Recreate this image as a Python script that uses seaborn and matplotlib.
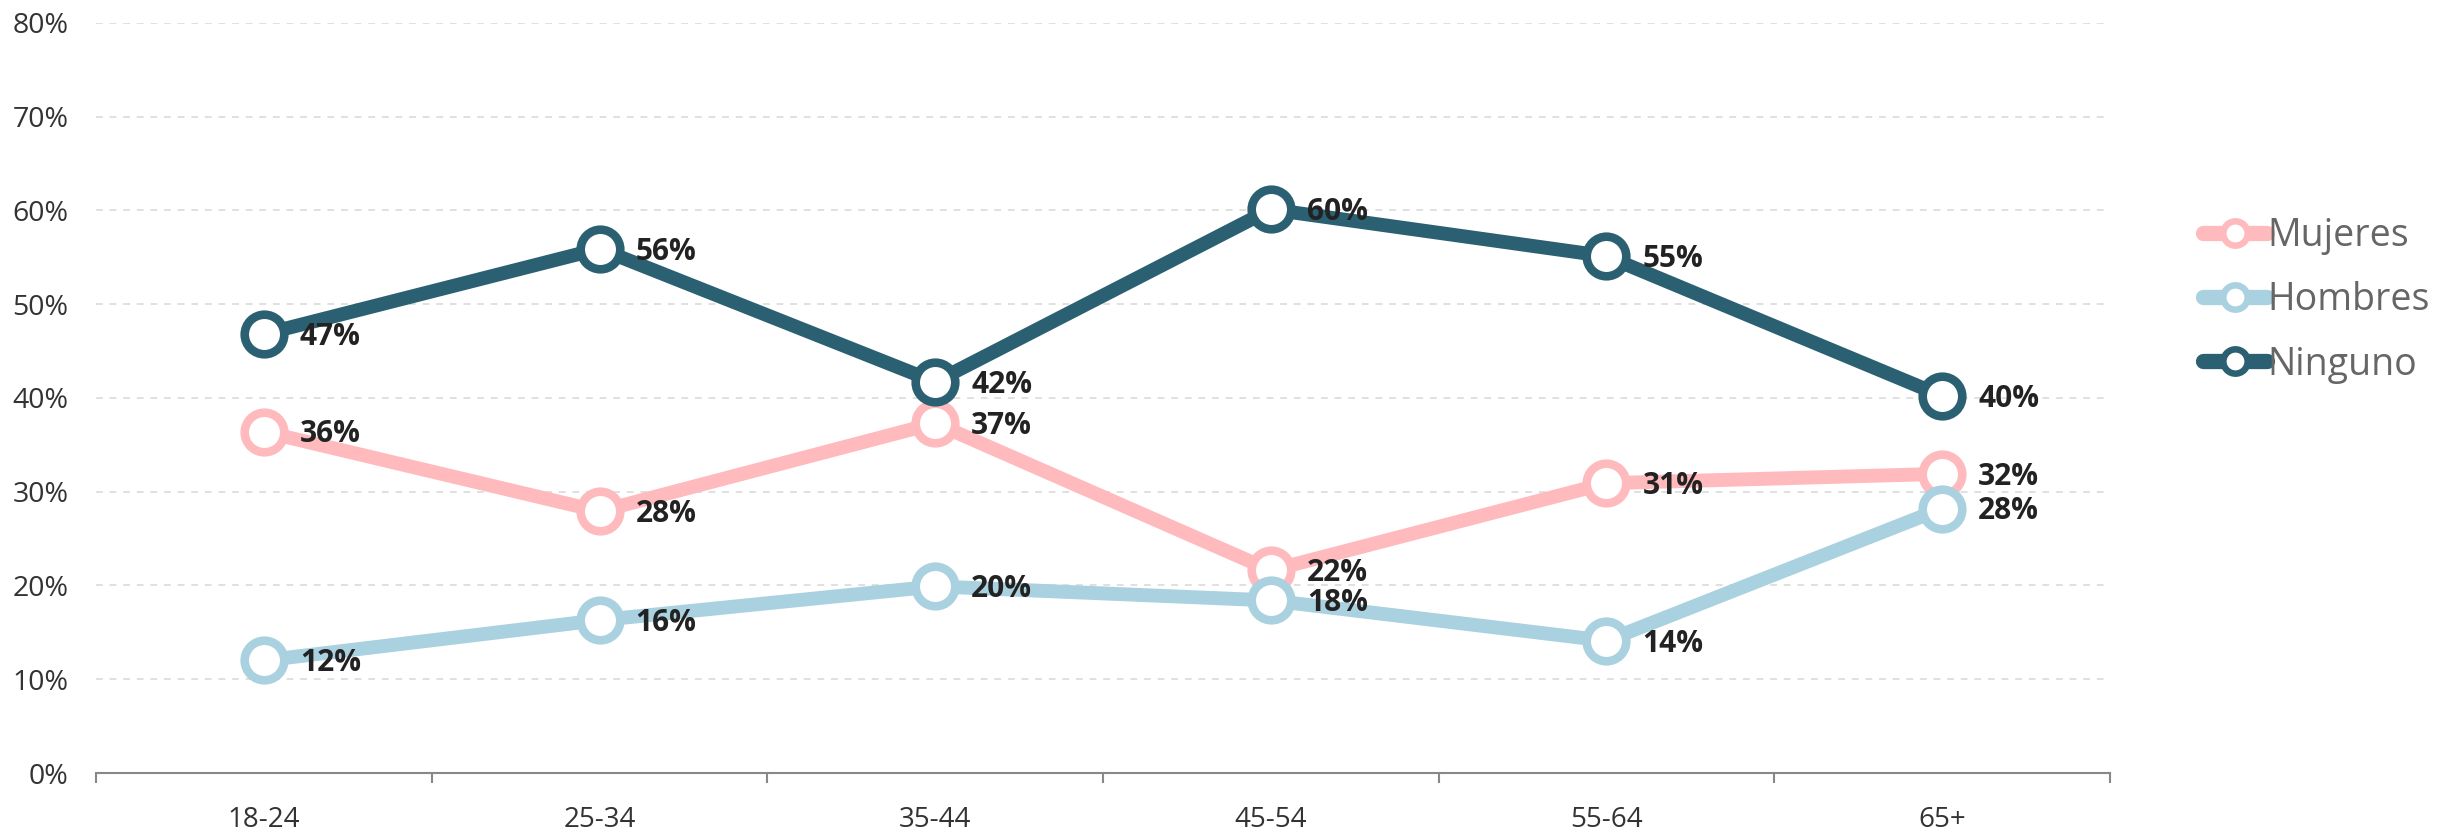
import numpy as np
import pandas as pd
import matplotlib
matplotlib.use("Agg")
import matplotlib.pyplot as plt
from matplotlib.lines import Line2D
from matplotlib.ticker import FixedLocator
import seaborn as sns

# --- data ---
ages = ["18-24", "25-34", "35-44", "45-54", "55-64", "65+"]
mujeres = [36.4, 27.9, 37.3, 21.6, 30.9, 31.9]
hombres = [12.0, 16.3, 19.9, 18.4, 14.1, 28.2]
ninguno = [46.8, 55.9, 41.7, 60.1, 55.1, 40.2]

series_names = ["Mujeres", "Hombres", "Ninguno"]
series_values = [mujeres, hombres, ninguno]
colors = ["#ffbabd", "#a9d1df", "#2a6071"]

yticks = [0, 10, 20, 30, 40, 50, 60, 70, 80]

sns.set_style("white")
plt.rcParams['font.family'] = ['Open Sans', 'DejaVu Sans']

fig = plt.figure(figsize=(24.44, 8.32), dpi=100)
ax = fig.add_axes([0.0393, 0.0709, 0.824, 0.9018])

for name, vals, col in zip(series_names, series_values, colors):
    df = pd.DataFrame({"edad": ages, "pct": vals})
    sns.lineplot(data=df, x="edad", y="pct", ax=ax, color=col, linewidth=10,
                 marker="o", markersize=28.5, markeredgewidth=6.2,
                 markerfacecolor="white", markeredgecolor=col,
                 solid_joinstyle="round", legend=False, zorder=3)

# value labels
for vals in series_values:
    for i, v in enumerate(vals):
        ax.annotate(f"{v:.0f}%", (i, v), xytext=(26, -2), textcoords="offset points",
                    ha="left", va="center", fontsize=21.5, fontweight="bold",
                    color="#222222", zorder=10)

# axes styling
ax.set_xlim(-0.5, len(ages) - 0.5)
ax.set_ylim(0, 80)
ax.set_yticks(yticks)
ax.set_yticklabels([f"{t}%" for t in yticks])
ax.set_xticks(range(len(ages)))
ax.set_xticklabels(ages)
ax.xaxis.set_minor_locator(FixedLocator(np.arange(-0.5, len(ages), 1.0)))
ax.tick_params(axis="x", which="major", bottom=False, length=0, pad=24, labelsize=20,
               labelcolor="#333333")
ax.tick_params(axis="x", which="minor", bottom=True, length=7, width=1.5,
               color="#888888", direction="out")
ax.tick_params(axis="y", length=0, pad=20, labelsize=20.5, labelcolor="#333333")
ax.set_xlabel("")
ax.set_ylabel("")

for s in ["top", "right", "left"]:
    ax.spines[s].set_visible(False)
ax.spines["bottom"].set_color("#888888")
ax.spines["bottom"].set_linewidth(1.5)
ax.spines["bottom"].set_zorder(4)

ax.yaxis.grid(True, linestyle=(0, (3.5, 3.5)), color="#e0e0e0", linewidth=1.4)
ax.xaxis.grid(False)
ax.set_axisbelow(True)

# legend
handles = [Line2D([0], [0], color=c, linewidth=11, solid_capstyle="round",
                  marker="o", markersize=17.5, markeredgewidth=4.7,
                  markerfacecolor="white", markeredgecolor=c) for c in colors]
leg = fig.legend(handles, series_names, loc="center left", bbox_to_anchor=(0.9015, 0.639),
                 frameon=False, fontsize=27, handlelength=1.7, handletextpad=0.0,
                 labelspacing=0.7, borderpad=0, borderaxespad=0)
for t in leg.get_texts():
    t.set_color("#666666")

fig.savefig("out.png", dpi=100)
